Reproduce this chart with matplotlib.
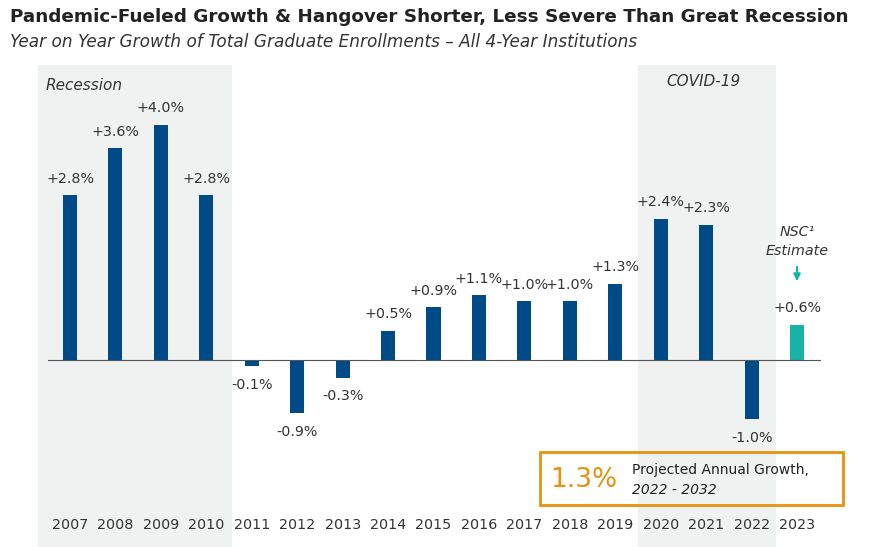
import matplotlib
matplotlib.use("Agg")
import matplotlib.pyplot as plt
from matplotlib.patches import Rectangle

years = list(range(2007, 2024))
growth = [2.8, 3.6, 4.0, 2.8, -0.1, -0.9, -0.3, 0.5, 0.9, 1.1, 1.0, 1.0, 1.3, 2.4, 2.3, -1.0, 0.6]
labels = ["+2.8%", "+3.6%", "+4.0%", "+2.8%", "-0.1%", "-0.9%", "-0.3%", "+0.5%", "+0.9%",
          "+1.1%", "+1.0%", "+1.0%", "+1.3%", "+2.4%", "+2.3%", "-1.0%", "+0.6%"]

W, H = 869, 547
fig = plt.figure(figsize=(W/100, H/100), dpi=100)
ax = fig.add_axes([0, 0, 1, 1])
pxx = 45.44; x0 = 70; pxy = 58.8; y0 = 360
px2x = lambda p: 2007 + (p - x0) / pxx
py2y = lambda p: (y0 - p) / pxy
ax.set_xlim(px2x(0), px2x(W)); ax.set_ylim(py2y(H), py2y(0))
ax.axis("off")

navy = "#004a87"; teal = "#17b3a6"; shade = "#f0f2f2"; orange = "#e8900f"
for a, b in [(38, 232), (638, 776)]:
    ax.add_patch(Rectangle((px2x(a), py2y(H)), px2x(b) - px2x(a), py2y(65) - py2y(H),
                           color=shade, zorder=0, lw=0))
cols = [navy] * 16 + [teal]
ax.bar(years, growth, width=0.31, color=cols, zorder=2)
ax.plot([px2x(48), px2x(820)], [0, 0], color="#555555", lw=0.8, zorder=3)
for yr, v, l in zip(years, growth, labels):
    off = 0.16 if v >= 0 else -0.2
    ax.text(yr, v + off, l, ha="center", va="bottom" if v >= 0 else "top", fontsize=10.3, color="#333333")
    ax.text(yr, py2y(525), str(yr), ha="center", va="center", fontsize=10.3, color="#333333")

ax.text(px2x(46), py2y(86), "Recession", style="italic", fontsize=11, va="center", color="#333333")
ax.text(px2x(703), py2y(82), "COVID-19", style="italic", fontsize=11, va="center", ha="center", color="#333333")
ax.text(2023, py2y(232), "NSC¹", style="italic", fontsize=10.3, ha="center", va="center", color="#333333")
ax.text(2023, py2y(251), "Estimate", style="italic", fontsize=10.3, ha="center", va="center", color="#333333")
ax.annotate("", xy=(2023, py2y(284)), xytext=(2023, py2y(264)),
            arrowprops=dict(arrowstyle="-|>", color=teal, lw=1.5, mutation_scale=10))

ax.add_patch(Rectangle((px2x(540), py2y(505)), px2x(843) - px2x(540), py2y(452) - py2y(505),
                       fill=False, ec=orange, lw=2, zorder=4))
ax.text(px2x(550), py2y(480), "1.3%", color=orange, fontsize=19, va="center", zorder=5)
ax.text(px2x(632), py2y(470), "Projected Annual Growth,", fontsize=10, va="center", color="#222222")
ax.text(px2x(632), py2y(490), "2022 - 2032", style="italic", fontsize=10, va="center", color="#222222")

fig.text(10/W, 1 - 17/H, "Pandemic-Fueled Growth & Hangover Shorter, Less Severe Than Great Recession",
         fontsize=13.2, weight="bold", va="center", color="#222222")
fig.text(10/W, 1 - 42/H, "Year on Year Growth of Total Graduate Enrollments – All 4-Year Institutions",
         fontsize=12.2, style="italic", va="center", color="#333333")
fig.savefig("out.png", dpi=100)
